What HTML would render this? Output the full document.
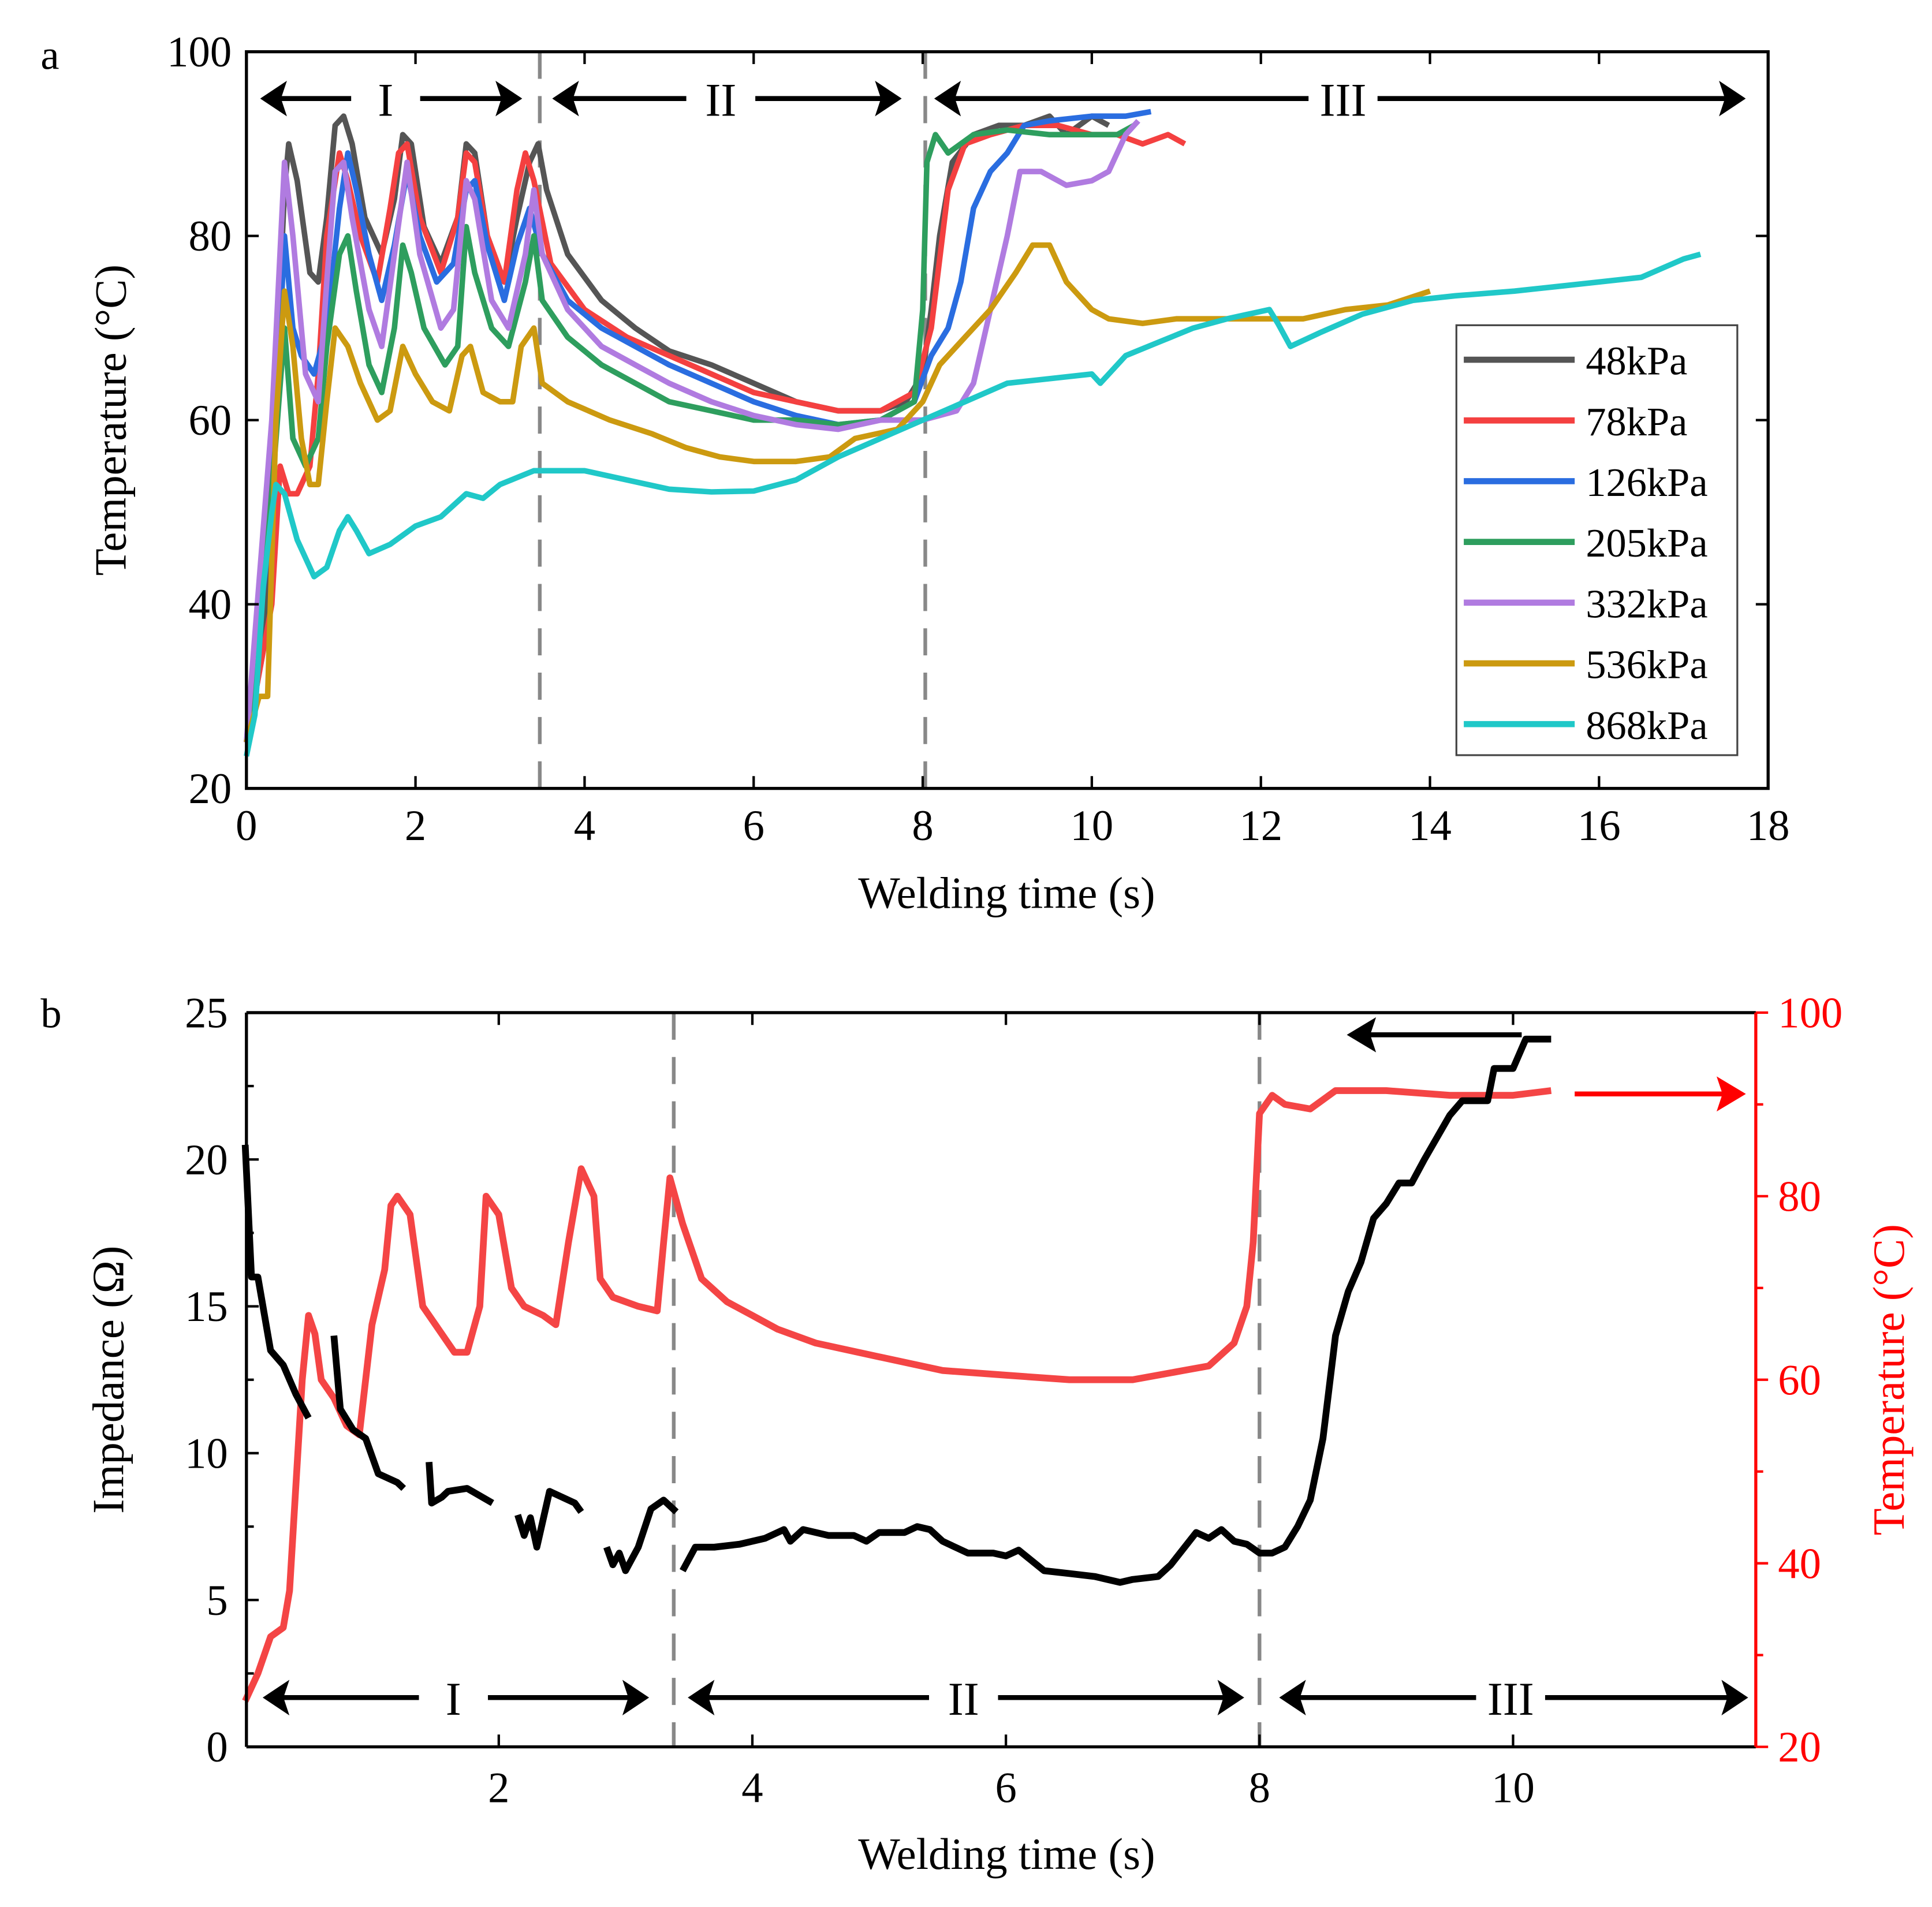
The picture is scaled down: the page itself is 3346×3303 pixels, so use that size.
<!DOCTYPE html>
<html><head><meta charset="utf-8"><style>
html,body{margin:0;padding:0;background:#fff;}
svg{display:block;font-family:"Liberation Serif",serif;}
</style></head><body>
<svg id="fig" width="3346" height="3303" viewBox="0 0 1568 1548" preserveAspectRatio="none" xmlns="http://www.w3.org/2000/svg">
<rect width="1568" height="1548" fill="#fff"/>
<g id="chartA"></g>
<g id="chartB"></g>
</svg>
<script>
// ---------- Chart a data ----------
const aXTicks=[0,2,4,6,8,10,12,14,16,18];
const aYTicks=[20,40,60,80,100];
const aNames=["48kPa","78kPa","126kPa","205kPa","332kPa","536kPa","868kPa"];
const aColors=["#555555","#f44040","#2a6de0","#2e9e5e","#b07be0","#cc9a10","#20c8c8"];
const s48=[[0,25],[0.2,35],[0.3,55],[0.45,85],[0.5,90],[0.6,86],[0.75,76],[0.85,75],[0.95,82],[1.05,92],[1.15,93],[1.25,90],[1.4,82],[1.6,78],[1.75,84],[1.85,91],[1.95,90],[2.1,81],[2.3,77],[2.5,82],[2.6,90],[2.7,89],[2.85,80],[3.05,75],[3.2,82],[3.35,88],[3.45,90],[3.55,85],[3.8,78],[4.2,73],[4.6,70],[5,67.5],[5.5,66],[6,64],[6.5,62],[7,61],[7.5,61],[7.8,62],[8,65],[8.1,72],[8.2,80],[8.35,88],[8.6,91],[8.9,92],[9.2,92],[9.5,93],[9.7,91],[10,93],[10.2,92]];
const s78=[[0,25],[0.3,40],[0.4,55],[0.5,52],[0.6,52],[0.75,55],[0.85,65],[0.95,80],[1.1,89],[1.2,86],[1.35,80],[1.55,75],[1.7,83],[1.8,89],[1.9,90],[2.05,82],[2.3,76],[2.5,82],[2.6,89],[2.7,88],[2.85,80],[3.05,75],[3.2,85],[3.3,89],[3.4,86],[3.6,77],[4,72],[4.5,69],[5,67],[5.5,65],[6,63],[6.5,62],[7,61],[7.5,61],[7.9,63],[8.1,70],[8.3,85],[8.5,90],[8.8,91],[9.2,92],[9.6,92],[10,91],[10.3,91],[10.6,90],[10.9,91],[11.1,90]];
const s126=[[0,25],[0.3,50],[0.45,80],[0.55,70],[0.65,67],[0.8,65],[0.95,70],[1.1,83],[1.2,89],[1.3,85],[1.45,78],[1.6,73],[1.75,79],[1.9,87],[2.05,80],[2.25,75],[2.45,77],[2.6,85],[2.7,86],[2.85,79],[3.05,73],[3.2,79],[3.35,83],[3.5,78],[3.8,73],[4.2,70],[4.6,68],[5,66],[5.5,64],[6,62],[6.5,60.5],[7,59.5],[7.5,60],[7.9,62],[8.1,67],[8.3,70],[8.45,75],[8.6,83],[8.8,87],[9,89],[9.2,92],[9.5,92.5],[10,93],[10.4,93],[10.7,93.5]];
const s205=[[0,25],[0.3,52],[0.45,70],[0.55,58],[0.7,55],[0.85,58],[0.95,68],[1.1,78],[1.2,80],[1.3,74],[1.45,66],[1.6,63],[1.75,70],[1.85,79],[1.95,76],[2.1,70],[2.35,66],[2.5,68],[2.6,81],[2.7,76],[2.9,70],[3.1,68],[3.3,75],[3.4,80],[3.5,73],[3.8,69],[4.2,66],[4.6,64],[5,62],[5.5,61],[6,60],[6.5,60],[7,59.5],[7.5,60],[7.9,62],[8,72],[8.05,88],[8.15,91],[8.3,89],[8.6,91],[9,91.5],[9.5,91],[10,91],[10.3,91],[10.5,92]];
const s332=[[0,25],[0.3,60],[0.45,88],[0.55,80],[0.7,65],[0.85,62],[0.95,75],[1.05,87],[1.15,88],[1.25,82],[1.45,72],[1.6,68],[1.75,78],[1.9,88],[2.05,78],[2.3,70],[2.45,72],[2.6,86],[2.7,84],[2.9,73],[3.1,70],[3.3,78],[3.4,85],[3.5,78],[3.8,72],[4.2,68],[4.6,66],[5,64],[5.5,62],[6,60.5],[6.5,59.5],[7,59],[7.5,60],[8,60],[8.4,61],[8.6,64],[8.8,72],[9,80],[9.15,87],[9.4,87],[9.7,85.5],[10,86],[10.2,87],[10.4,91],[10.55,92.5]];
const s536=[[0,25],[0.15,30],[0.25,30],[0.35,60],[0.45,74],[0.55,68],[0.65,58],[0.75,53],[0.85,53],[0.95,62],[1.05,70],[1.2,68],[1.35,64],[1.55,60],[1.7,61],[1.85,68],[2,65],[2.2,62],[2.4,61],[2.55,67],[2.65,68],[2.8,63],[3,62],[3.15,62],[3.25,68],[3.4,70],[3.5,64],[3.8,62],[4.3,60],[4.8,58.5],[5.2,57],[5.6,56],[6,55.5],[6.5,55.5],[6.9,56],[7.2,58],[7.7,59],[8,62],[8.2,66],[8.5,69],[8.8,72],[9.1,76],[9.3,79],[9.5,79],[9.7,75],[10,72],[10.2,71],[10.6,70.5],[11,71],[11.5,71],[12,71],[12.5,71],[13,72],[13.5,72.5],[14,74]];
const s868=[[0,23.5],[0.1,28],[0.2,42],[0.3,50],[0.35,53],[0.45,52],[0.6,47],[0.8,43],[0.95,44],[1.1,48],[1.2,49.5],[1.3,48],[1.45,45.5],[1.7,46.5],[2,48.5],[2.3,49.5],[2.6,52],[2.8,51.5],[3,53],[3.4,54.5],[4,54.5],[4.5,53.5],[5,52.5],[5.5,52.2],[6,52.3],[6.5,53.5],[7,56],[7.5,58],[8,60],[8.5,62],[9,64],[9.5,64.5],[10,65],[10.1,64],[10.4,67],[10.8,68.5],[11.2,70],[11.6,71],[12.1,72],[12.2,70.5],[12.35,68],[12.7,69.5],[13.2,71.5],[13.8,73],[14.3,73.5],[15,74],[15.5,74.5],[16,75],[16.5,75.5],[17,77.5],[17.2,78]];
const aSeries=[s48,s78,s126,s205,s332,s536,s868];
const aDashed=[3.47,8.03];

// ---------- Chart b data ----------
const bXTicks=[2,4,6,8,10];
const bYTicks=[0,5,10,15,20,25];
const bY2Ticks=[20,40,60,80,100];
const bImpSegments=[
 [[0,20.5],[0.05,16],[0.1,16],[0.2,13.5],[0.3,13],[0.4,12],[0.5,11.2]],
 [[0.7,14],[0.75,11.5],[0.85,10.8],[0.95,10.5],[1.05,9.3],[1.2,9],[1.25,8.8]],
 [[1.45,9.7],[1.47,8.3],[1.55,8.5],[1.6,8.7],[1.75,8.8],[1.95,8.3]],
 [[2.15,7.9],[2.2,7.2],[2.25,7.8],[2.3,6.8],[2.4,8.7],[2.6,8.3],[2.65,8]],
 [[2.85,6.8],[2.9,6.2],[2.95,6.6],[3.0,6.0],[3.1,6.8],[3.2,8.1],[3.3,8.4],[3.4,8]],
 [[3.45,6],[3.55,6.8],[3.7,6.8],[3.9,6.9],[4.1,7.1],[4.25,7.4],[4.3,7],[4.4,7.4],[4.6,7.2],[4.8,7.2],[4.9,7],[5.0,7.3],[5.2,7.3],[5.3,7.5],[5.4,7.4],[5.5,7],[5.7,6.6],[5.9,6.6],[6,6.5],[6.1,6.7],[6.3,6],[6.5,5.9],[6.7,5.8],[6.9,5.6],[7.0,5.7],[7.2,5.8],[7.3,6.2],[7.5,7.3],[7.6,7.1],[7.7,7.4],[7.8,7],[7.9,6.9],[8.0,6.6],[8.1,6.6],[8.2,6.8],[8.3,7.5],[8.4,8.4],[8.5,10.5],[8.6,14],[8.7,15.5],[8.8,16.5],[8.9,18],[9.0,18.5],[9.1,19.2],[9.2,19.2],[9.3,20],[9.5,21.5],[9.6,22],[9.8,22],[9.85,23.1],[10.0,23.1],[10.1,24.1],[10.3,24.1]]
];
const bTemp=[[0,25],[0.1,28],[0.2,32],[0.3,33],[0.35,37],[0.45,60],[0.5,67],[0.55,65],[0.6,60],[0.7,58],[0.8,55],[0.9,54],[1,66],[1.1,72],[1.15,79],[1.2,80],[1.3,78],[1.4,68],[1.5,66],[1.65,63],[1.75,63],[1.85,68],[1.9,80],[2,78],[2.1,70],[2.2,68],[2.35,67],[2.45,66],[2.55,75],[2.65,83],[2.75,80],[2.8,71],[2.9,69],[3.1,68],[3.25,67.5],[3.3,75],[3.35,82],[3.45,77],[3.6,71],[3.8,68.5],[4,67],[4.2,65.5],[4.5,64],[5,62.5],[5.5,61],[6,60.5],[6.5,60],[7,60],[7.4,61],[7.6,61.5],[7.8,64],[7.9,68],[7.95,75],[8.0,89],[8.1,91],[8.2,90],[8.4,89.5],[8.6,91.5],[9,91.5],[9.5,91],[10,91],[10.3,91.5]];
const bDashed=[3.38,8.0];

const NS="http://www.w3.org/2000/svg";
function mk(parent,tag,attrs,text){const e=document.createElementNS(NS,tag);for(const k in attrs)e.setAttribute(k,attrs[k]);if(text!==undefined)e.textContent=text;parent.appendChild(e);return e;}
function pathOf(pts,fx,fy){return pts.map((p,i)=>(i?'L':'M')+fx(p[0]).toFixed(1)+' '+fy(p[1]).toFixed(1)).join(' ');}

// ===== Chart a =====
const A=document.getElementById('chartA');
const aL=200,aR=1435,aT=42,aB=640;
const ax=t=>aL+(t-0)/(18-0)*(aR-aL);
const ay=v=>aB-(v-20)/(100-20)*(aB-aT);
aDashed.forEach(t=>{const l=mk(A,'line',{x1:ax(t),x2:ax(t),y1:aT,y2:aB,stroke:'#888',"stroke-width":3,"stroke-dasharray":"22 14"});

});
aSeries.forEach((s,i)=>{const p=mk(A,'path',{d:pathOf(s,ax,ay),fill:'none',stroke:aColors[i],"stroke-width":4.5,"stroke-linejoin":"round"});

});
const af=mk(A,'rect',{x:aL,y:aT,width:aR-aL,height:aB-aT,fill:'none',stroke:'#000',"stroke-width":2.5});


aXTicks.forEach(t=>{mk(A,'line',{x1:ax(t),x2:ax(t),y1:aB,y2:aB-10,stroke:'#000',"stroke-width":2});mk(A,'line',{x1:ax(t),x2:ax(t),y1:aT,y2:aT+10,stroke:'#000',"stroke-width":2});
const tx=mk(A,'text',{x:ax(t),y:aB+42,"font-size":35,"text-anchor":"middle"},String(t));

});
aYTicks.forEach(v=>{mk(A,'line',{x1:aL,x2:aL+10,y1:ay(v),y2:ay(v),stroke:'#000',"stroke-width":2});mk(A,'line',{x1:aR,x2:aR-10,y1:ay(v),y2:ay(v),stroke:'#000',"stroke-width":2});
const tx=mk(A,'text',{x:aL-12,y:ay(v)+12,"font-size":35,"text-anchor":"end"},String(v));

});
const at1=mk(A,'text',{x:817,y:737,"font-size":36,"text-anchor":"middle"},'Welding time (s)');


const at2=mk(A,'text',{x:102,y:341,"font-size":36,"text-anchor":"middle",transform:'rotate(-90 102 341)'},'Temperature (°C)');


const la=mk(A,'text',{x:33,y:56,"font-size":34},'a');


// legend
const lg=mk(A,'rect',{x:1182,y:264,width:228,height:349,fill:'#fff',stroke:'#444',"stroke-width":1.5});


aNames.forEach((n,i)=>{const y=292+i*49.3;mk(A,'line',{x1:1188,x2:1278,y1:y,y2:y,stroke:aColors[i],"stroke-width":5});
const tx=mk(A,'text',{x:1287,y:y+12,"font-size":33},n);

});

function arrowLine(G,x1,x2,y,color,label,lx){
  const g=mk(G,'g',{});
  
  
  const gap=label?28:0;
  if(label){
    mk(g,'line',{x1:x1+14,x2:lx-gap,y1:y,y2:y,stroke:color,"stroke-width":4});
    mk(g,'line',{x1:lx+gap,x2:x2-14,y1:y,y2:y,stroke:color,"stroke-width":4});
    mk(g,'text',{x:lx,y:y+14,"font-size":38,"text-anchor":"middle"},label);
  }
  mk(g,'polygon',{points:`${x1},${y} ${x1+18},${y-12} ${x1+14},${y} ${x1+18},${y+12}`,fill:color,stroke:color,"stroke-width":2});
  mk(g,'polygon',{points:`${x2},${y} ${x2-18},${y-12} ${x2-14},${y} ${x2-18},${y+12}`,fill:color,stroke:color,"stroke-width":2});
}
arrowLine(A,213,422,80,'#000','I',313);
arrowLine(A,450,730,80,'#000','II',585);
arrowLine(A,760,1415,80,'#000','III',1090);

// ===== Chart b =====
const B=document.getElementById('chartB');
const bL=200,bR=1425,bT=822,bBt=1418;
const bx=t=>199+t*102.9;
const by=v=>bBt-v/25*(bBt-bT);
const by2=v=>bBt-(v-20)/80*(bBt-bT);
bDashed.forEach(t=>{const l=mk(B,'line',{x1:bx(t),x2:bx(t),y1:bT,y2:bBt,stroke:'#888',"stroke-width":3,"stroke-dasharray":"22 14"});

});
const rp=mk(B,'path',{d:pathOf(bTemp,bx,by2),fill:'none',stroke:'#f44545',"stroke-width":5.5,"stroke-linejoin":"round"});


bImpSegments.forEach(s=>{const p=mk(B,'path',{d:pathOf(s,bx,by),fill:'none',stroke:'#000',"stroke-width":5.5,"stroke-linejoin":"round"});

});
mk(B,'line',{x1:bL,x2:bR,y1:bT,y2:bT,stroke:'#000',"stroke-width":2.5});
mk(B,'line',{x1:bL,x2:bR,y1:bBt,y2:bBt,stroke:'#000',"stroke-width":2.5});
mk(B,'line',{x1:bL,x2:bL,y1:bT,y2:bBt,stroke:'#000',"stroke-width":2.5});
const ra=mk(B,'line',{x1:bR,x2:bR,y1:bT,y2:bBt,stroke:'#f00',"stroke-width":2.5});


bXTicks.forEach(t=>{mk(B,'line',{x1:bx(t),x2:bx(t),y1:bBt,y2:bBt-10,stroke:'#000',"stroke-width":2});mk(B,'line',{x1:bx(t),x2:bx(t),y1:bT,y2:bT+10,stroke:'#000',"stroke-width":2});
const tx=mk(B,'text',{x:bx(t),y:bBt+45,"font-size":35,"text-anchor":"middle"},String(t));

});
bYTicks.forEach(v=>{mk(B,'line',{x1:bL,x2:bL+10,y1:by(v),y2:by(v),stroke:'#000',"stroke-width":2});
if(v<25)mk(B,'line',{x1:bL,x2:bL+6,y1:by(v+2.5),y2:by(v+2.5),stroke:'#000',"stroke-width":2});
const tx=mk(B,'text',{x:bL-15,y:by(v)+12,"font-size":35,"text-anchor":"end"},String(v));

});
bY2Ticks.forEach(v=>{mk(B,'line',{x1:bR,x2:bR+10,y1:by2(v),y2:by2(v),stroke:'#f00',"stroke-width":2});
if(v<100)mk(B,'line',{x1:bR,x2:bR+6,y1:by2(v+10),y2:by2(v+10),stroke:'#f00',"stroke-width":2});
const tx=mk(B,'text',{x:bR+18,y:by2(v)+12,"font-size":35,fill:'#f00'},String(v));

});
const bt1=mk(B,'text',{x:817,y:1517,"font-size":36,"text-anchor":"middle"},'Welding time (s)');


const bt2=mk(B,'text',{x:100,y:1120,"font-size":36,"text-anchor":"middle",transform:'rotate(-90 100 1120)'},'Impedance (Ω)');


const bt3=mk(B,'text',{x:1545,y:1120,"font-size":36,"text-anchor":"middle",fill:'#f00',transform:'rotate(-90 1545 1120)'},'Temperature (°C)');


const lb=mk(B,'text',{x:33,y:834,"font-size":34},'b');


arrowLine(B,215,525,1378,'#000','I',368);
arrowLine(B,560,1008,1378,'#000','II',782);
arrowLine(B,1040,1417,1378,'#000','III',1226);
const ia=mk(B,'g',{});


mk(ia,'line',{x1:1235,x2:1110,y1:840,y2:840,stroke:'#000',"stroke-width":4});
mk(ia,'polygon',{points:'1095,840 1115,828 1111,840 1115,852',fill:'#000',stroke:'#000',"stroke-width":2});
const ta=mk(B,'g',{});


mk(ta,'line',{x1:1278,x2:1400,y1:888,y2:888,stroke:'#f00',"stroke-width":4});
mk(ta,'polygon',{points:'1415,888 1395,876 1399,888 1395,900',fill:'#f00',stroke:'#f00',"stroke-width":2});
</script>
</body></html>
